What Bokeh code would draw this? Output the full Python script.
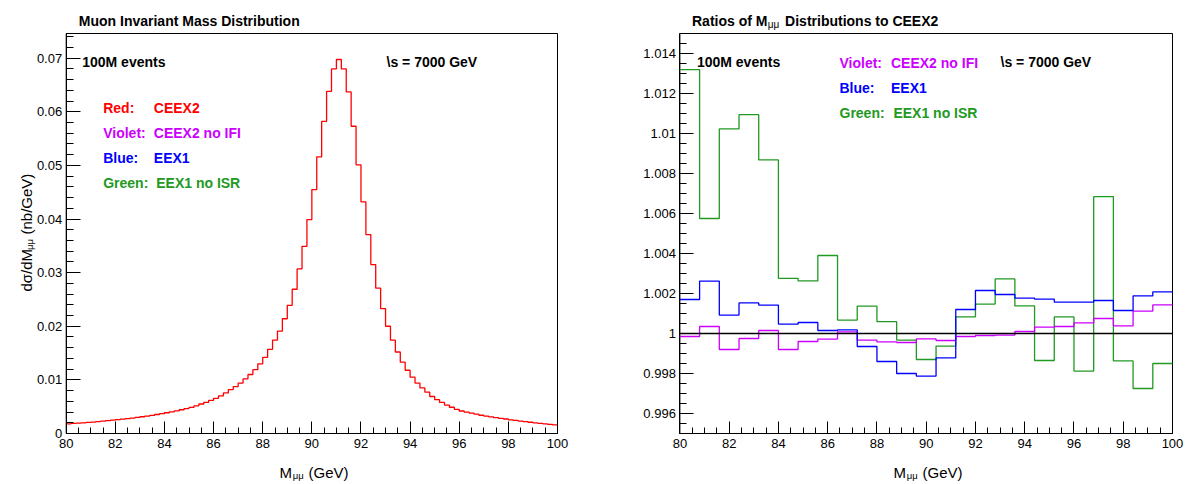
import numpy as np
from bokeh.plotting import figure
from bokeh.models import Range1d, FixedTicker, CustomJSTickFormatter, Label
from bokeh.layouts import row
from bokeh.embed import file_html
from bokeh.resources import INLINE

# ---------------- data ----------------
mass_range = [80.0, 100.0]
n_mass_bins = 100
n_ratio_bins = 25
y_range_left = [0.0, 0.0746]
y_range_right = [0.995, 1.015]

# d(sigma)/dM (nb/GeV), CEEX2 (red), 0.2 GeV bins from 80 to 100 GeV
xsec_ceex2 = [
    0.00180, 0.00187, 0.00193, 0.00200, 0.00207, 0.00214, 0.00222, 0.00230, 0.00239, 0.00248,
    0.00257, 0.00267, 0.00277, 0.00288, 0.00300, 0.00312, 0.00325, 0.00339, 0.00354, 0.00370,
    0.00387, 0.00404, 0.00423, 0.00443, 0.00464, 0.00487, 0.00516, 0.00550, 0.00581, 0.00619,
    0.00656, 0.00700, 0.00756, 0.00819, 0.00875, 0.00940, 0.01020, 0.01100, 0.01190, 0.01300,
    0.01420, 0.01570, 0.01740, 0.01910, 0.02140, 0.02390, 0.02690, 0.03070, 0.03490, 0.03990,
    0.04550, 0.05160, 0.05820, 0.06380, 0.06800, 0.06975, 0.06800, 0.06370, 0.05730, 0.05010,
    0.04320, 0.03710, 0.03150, 0.02710, 0.02330, 0.02000, 0.01740, 0.01520, 0.01330, 0.01180,
    0.01050, 0.00940, 0.00850, 0.00770, 0.00690, 0.00630, 0.00580, 0.00530, 0.00490, 0.00450,
    0.00420, 0.00400, 0.00380, 0.00360, 0.00340, 0.00325, 0.00310, 0.00295, 0.00282, 0.00270,
    0.00255, 0.00243, 0.00232, 0.00221, 0.00210, 0.00200, 0.00190, 0.00180, 0.00170, 0.00160,
]

# Ratios to CEEX2, 0.8 GeV bins from 80 to 100 GeV
ratio_ceex2_noifi = [
    0.99985, 1.00035, 0.99920, 0.99975, 1.00015, 0.99920, 0.99960, 0.99972, 1.00008, 0.99967,
    0.99958, 0.99955, 0.99973, 0.99965, 0.99985, 0.99990, 0.99992, 1.00010, 1.00032, 1.00035,
    1.00053, 1.00075, 1.00038, 1.00112, 1.00143,
]
ratio_eex1 = [
    1.00170, 1.00262, 1.00092, 1.00153, 1.00142, 1.00047, 1.00055, 1.00015, 1.00018, 0.99935,
    0.99860, 0.99800, 0.99787, 0.99878, 1.00120, 1.00215, 1.00195, 1.00177, 1.00172, 1.00157,
    1.00157, 1.00165, 1.00115, 1.00188, 1.00208,
]
ratio_eex1_noisr = [
    1.01319, 1.00575, 1.01023, 1.01094, 1.00868, 1.00276, 1.00263, 1.00390, 1.00067, 1.00137,
    1.00059, 0.99967, 0.99870, 0.99937, 1.00083, 1.00147, 1.00273, 1.00138, 0.99865, 1.00083,
    0.99812, 1.00684, 0.99863, 0.99725, 0.99850,
]
ratio_reference = 1.0

x_ticks = [80, 82, 84, 86, 88, 90, 92, 94, 96, 98, 100]
y_ticks_left = [0, 0.01, 0.02, 0.03, 0.04, 0.05, 0.06, 0.07]
y_ticks_right = [0.996, 0.998, 1, 1.002, 1.004, 1.006, 1.008, 1.01, 1.012, 1.014]

RED, VIOLET, BLUE, GREEN = "#ff0000", "#cc00ff", "#0000ff", "#229922"
legend_left = [("Red:", "CEEX2", RED),
               ("Violet:", "CEEX2 no IFI", VIOLET),
               ("Blue:", "EEX1", BLUE),
               ("Green:", "EEX1 no ISR", GREEN)]
legend_right = legend_left[1:]

# ---------------- geometry / styling ----------------
FONT = "Liberation Sans"
PAGE_H = 484
BOX_TOP, BOX_BOTTOM = 33.0, 433.0


def make_fig(fig_x, fig_w, box_l, box_r, yr):
    kx = (mass_range[1] - mass_range[0]) / (box_r - box_l)
    ky = (yr[1] - yr[0]) / (BOX_BOTTOM - BOX_TOP)
    xr = Range1d(mass_range[0] - (box_l - fig_x) * kx, mass_range[1] + (fig_x + fig_w - box_r) * kx)
    yrng = Range1d(yr[0] - (PAGE_H - BOX_BOTTOM) * ky, yr[1] + BOX_TOP * ky)
    p = figure(title=None, width=fig_w, height=PAGE_H, x_range=xr, y_range=yrng,
               min_border=0, min_border_left=0, min_border_right=0,
               min_border_top=0, min_border_bottom=0,
               output_backend="svg", toolbar_location=None)
    p.outline_line_color = None
    p.xgrid.grid_line_color = None
    p.ygrid.grid_line_color = None
    p.background_fill_color = "white"
    p.border_fill_color = "white"
    p.xaxis.fixed_location = yr[0]
    p.yaxis.fixed_location = mass_range[0]
    p.xaxis.bounds = (mass_range[0], mass_range[1])
    p.yaxis.bounds = (yr[0], yr[1])
    # frame box of the histogram pad
    p.quad(left=[mass_range[0]], right=[mass_range[1]], bottom=[yr[0]], top=[yr[1]],
           fill_color=None, line_color="black", line_width=1)
    return p


def style_axes(p, yticks, yminor):
    p.xaxis.ticker = FixedTicker(ticks=x_ticks, minor_ticks=list(np.arange(80, 100.01, 0.5)))
    p.yaxis.ticker = FixedTicker(ticks=yticks, minor_ticks=yminor)
    fmt = "return tick.toString()"
    p.xaxis.formatter = CustomJSTickFormatter(code=fmt)
    p.yaxis.formatter = CustomJSTickFormatter(code=fmt)
    for ax, tin, mtin, so in ((p.xaxis, 12, 6, 5), (p.yaxis, 14, 7, 4)):
        ax.major_tick_in = tin
        ax.major_tick_out = 0
        ax.minor_tick_in = mtin
        ax.minor_tick_out = 0
        ax.major_label_standoff = so
        ax.major_label_text_font = FONT
        ax.major_label_text_font_size = "13px"
        ax.major_label_text_color = "black"
        ax.axis_line_color = "black"
        ax.major_tick_line_color = "black"
        ax.minor_tick_line_color = "black"


def add_text(p, fig_x, X, Y, text, size, color="black", bold=False, angle=0.0):
    p.add_layout(Label(x=X - fig_x, y=PAGE_H - Y, x_units="screen", y_units="screen",
                       text=text, text_font=FONT, text_font_size=f"{size}px",
                       text_font_style="bold" if bold else "normal", text_color=color,
                       text_align="left", text_baseline="alphabetic", angle=angle))


mass_edges = np.linspace(mass_range[0], mass_range[1], n_mass_bins + 1)
ratio_edges = np.linspace(mass_range[0], mass_range[1], n_ratio_bins + 1)

# ---------------- left figure ----------------
F1X, F1W = 0, 596
p1 = make_fig(F1X, F1W, 65.7, 557.0, y_range_left)
style_axes(p1, y_ticks_left, [round(v, 3) for v in np.arange(0, 0.0745, 0.002)])
p1.step(x=mass_edges, y=np.append(xsec_ceex2, xsec_ceex2[-1]), mode="after",
        line_color=RED, line_width=1.3)

add_text(p1, F1X, 78.3, 20.5, "Muon Invariant Mass Distribution", 14, bold=True)
add_text(p1, F1X, 81.7, 61.7, "100M events", 14, bold=True)
add_text(p1, F1X, 386, 61.7, "\\s = 7000 GeV", 14, bold=True)
for i, (lab, name, col) in enumerate(legend_left):
    add_text(p1, F1X, 102.7, 107 + 25 * i, lab, 14, col, True)
    add_text(p1, F1X, 153.3 + (2.4 if i == 3 else 0), 107 + 25 * i, name, 14, col, True)
add_text(p1, F1X, 279, 471.5, "M", 15)
add_text(p1, F1X, 292.3, 474.5, "μμ", 9.5)
add_text(p1, F1X, 308, 471.5, "(GeV)", 15)
ang = np.pi / 2
add_text(p1, F1X, 26, 291, "dσ/dM", 15, angle=ang)
add_text(p1, F1X, 28.5, 249.5, "μμ", 9.5, angle=ang)
add_text(p1, F1X, 26, 234, "(nb/GeV)", 15, angle=ang)

# ---------------- right figure ----------------
F2X, F2W = 596, 597
p2 = make_fig(F2X, F2W, 679.4, 1172.0, y_range_right)
style_axes(p2, y_ticks_right, [round(v, 4) for v in np.arange(0.995, 1.01501, 0.0005)])
for vals, col in ((ratio_eex1_noisr, GREEN), (ratio_ceex2_noifi, VIOLET), (ratio_eex1, BLUE)):
    p2.step(x=ratio_edges, y=np.append(vals, vals[-1]), mode="after", line_color=col, line_width=1.3)
p2.segment(x0=[mass_range[0]], x1=[mass_range[1]], y0=[ratio_reference], y1=[ratio_reference],
           line_color="black", line_width=1.3)

add_text(p2, F2X, 691.5, 20.5, "Ratios of M", 14, bold=True)
add_text(p2, F2X, 767.3, 23.5, "μμ", 10)
add_text(p2, F2X, 784.6, 20.5, "Distributions to CEEX2", 14, bold=True)
add_text(p2, F2X, 696.4, 61.7, "100M events", 14, bold=True)
add_text(p2, F2X, 1000, 61.7, "\\s = 7000 GeV", 14, bold=True)
for i, (lab, name, col) in enumerate(legend_right):
    add_text(p2, F2X, 839, 62 + 25 * i, lab, 14, col, True)
    add_text(p2, F2X, 890.5 + (2.4 if i == 2 else 0), 62 + 25 * i, name, 14, col, True)
add_text(p2, F2X, 893, 471.5, "M", 15)
add_text(p2, F2X, 906.3, 474.5, "μμ", 9.5)
add_text(p2, F2X, 922, 471.5, "(GeV)", 15)

layout = row(p1, p2)
open("out.html", "w").write(file_html(layout, INLINE))
